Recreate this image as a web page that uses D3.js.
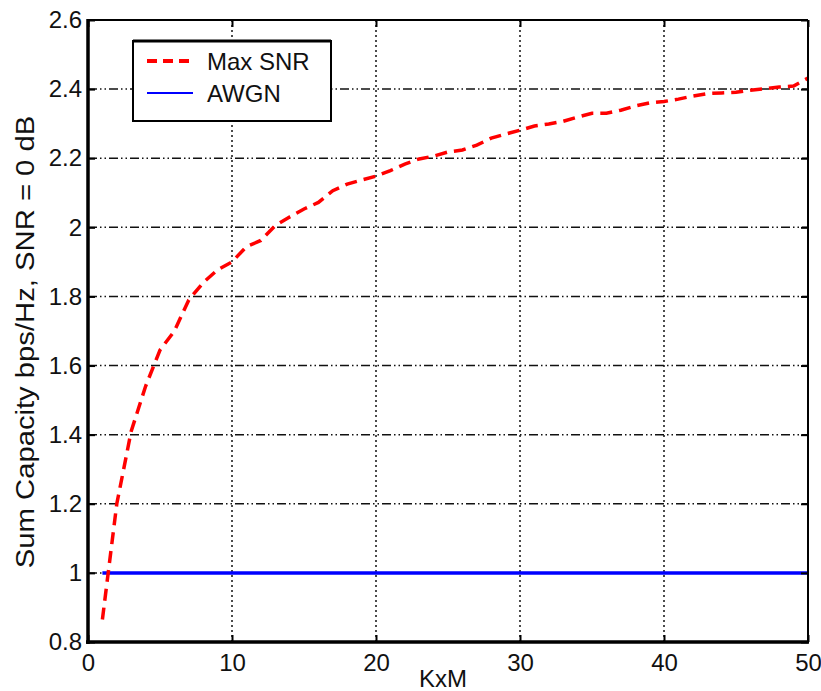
<!DOCTYPE html>
<html>
<head>
<meta charset="utf-8">
<script src="https://cdn.jsdelivr.net/npm/d3@7"></script>
<style>
  body { margin: 0; background: #fff; }
  svg { font-family: "Liberation Sans", Arial, Helvetica, sans-serif; }
</style>
</head>
<body>
<div id="vis"></div>
<script>
const FRAME_WIDTH = 821;
const FRAME_HEIGHT = 691;
const MARGINS = {left: 88, right: 13, top: 20, bottom: 49};

// data
const KXM = [1, 2, 3, 4, 5, 6, 7, 8, 9, 10, 11, 12, 13, 14, 15, 16, 17, 18, 19, 20,
             21, 22, 23, 24, 25, 26, 27, 28, 29, 30, 31, 32, 33, 34, 35, 36, 37, 38, 39, 40,
             41, 42, 43, 44, 45, 46, 47, 48, 49, 50];
const MAX_SNR = [0.865, 1.20, 1.41, 1.54, 1.645, 1.70, 1.79, 1.84, 1.877, 1.90,
                 1.944, 1.962, 2.005, 2.03, 2.053, 2.072, 2.106, 2.125, 2.137, 2.148,
                 2.164, 2.183, 2.198, 2.206, 2.218, 2.224, 2.238, 2.258, 2.27, 2.281,
                 2.293, 2.299, 2.307, 2.319, 2.33, 2.33, 2.339, 2.351, 2.36, 2.364,
                 2.371, 2.38, 2.387, 2.389, 2.391, 2.397, 2.401, 2.406, 2.409, 2.432];
const AWGN_X = [1, 50];
const AWGN = [1, 1];
const X_TICKS = [0, 10, 20, 30, 40, 50];
const Y_TICKS = [0.8, 1, 1.2, 1.4, 1.6, 1.8, 2, 2.2, 2.4, 2.6];
const LEGEND = ['Max SNR', 'AWGN'];

const X0 = MARGINS.left, X1 = FRAME_WIDTH - MARGINS.right;
const Y0 = FRAME_HEIGHT - MARGINS.bottom, Y1 = MARGINS.top;

const svg = d3.select('#vis')
  .append('svg')
    .attr('width', FRAME_WIDTH)
    .attr('height', FRAME_HEIGHT);

const X_SCALE = d3.scaleLinear().domain([0, 50]).range([X0, X1]);
const Y_SCALE = d3.scaleLinear().domain([0.8, 2.6]).range([Y0, Y1]);

// grid
svg.append('g')
  .selectAll('line')
  .data(X_TICKS.slice(1, -1))
  .enter().append('line')
    .attr('x1', d => X_SCALE(d)).attr('x2', d => X_SCALE(d))
    .attr('y1', Y0).attr('y2', Y1)
    .attr('stroke', '#111').attr('stroke-width', 1.5)
    .attr('stroke-dasharray', '2,3');

svg.append('g')
  .selectAll('line')
  .data(Y_TICKS.slice(1, -1))
  .enter().append('line')
    .attr('x1', X0).attr('x2', X1)
    .attr('y1', d => Y_SCALE(d)).attr('y2', d => Y_SCALE(d))
    .attr('stroke', '#111').attr('stroke-width', 1.5)
    .attr('stroke-dasharray', '9,3,1.5,3,1.5,3');

// lines
const line = d3.line()
  .x(d => X_SCALE(d[0]))
  .y(d => Y_SCALE(d[1]));

svg.append('path')
  .datum(AWGN_X.map((k, i) => [k, AWGN[i]]))
  .attr('d', line)
  .attr('fill', 'none')
  .attr('stroke', '#0000ff')
  .attr('stroke-width', 3.5);

svg.append('path')
  .datum(KXM.map((k, i) => [k, MAX_SNR[i]]))
  .attr('d', line)
  .attr('fill', 'none')
  .attr('stroke', '#ff0000')
  .attr('stroke-width', 3.5)
  .attr('stroke-dasharray', '12,7');

// axes
const styleAxis = (g) => {
  g.select('.domain').remove();
  g.selectAll('.tick line').attr('stroke', '#000').attr('stroke-width', 2);
  g.selectAll('text').attr('fill', '#111').attr('font-size', '24px');
};

svg.append('g')
  .attr('transform', 'translate(0,' + Y0 + ')')
  .call(d3.axisBottom(X_SCALE).tickValues(X_TICKS).tickSize(-7).tickPadding(12).tickFormat(d3.format('d')))
  .call(styleAxis);

svg.append('g')
  .attr('transform', 'translate(' + X0 + ',0)')
  .call(d3.axisLeft(Y_SCALE).tickValues(Y_TICKS).tickSize(-7).tickPadding(6).tickFormat(d => d3.format('')(+d.toFixed(1))))
  .call(styleAxis);

svg.append('g')
  .attr('transform', 'translate(0,' + Y1 + ')')
  .call(d3.axisTop(X_SCALE).tickValues(X_TICKS).tickSize(-7).tickFormat(''))
  .call(styleAxis);

svg.append('g')
  .attr('transform', 'translate(' + X1 + ',0)')
  .call(d3.axisRight(Y_SCALE).tickValues(Y_TICKS).tickSize(-7).tickFormat(''))
  .call(styleAxis);

// frame
svg.append('line').attr('x1', X0).attr('x2', X1).attr('y1', Y1).attr('y2', Y1)
  .attr('stroke', '#000').attr('stroke-width', 2);
svg.append('line').attr('x1', X1).attr('x2', X1).attr('y1', Y1).attr('y2', Y0)
  .attr('stroke', '#000').attr('stroke-width', 2);
svg.append('line').attr('x1', X0).attr('x2', X0).attr('y1', Y1 - 1).attr('y2', Y0 + 2)
  .attr('stroke', '#000').attr('stroke-width', 3.5);
svg.append('line').attr('x1', X0 - 2).attr('x2', X1 + 1).attr('y1', Y0).attr('y2', Y0)
  .attr('stroke', '#000').attr('stroke-width', 3.5);

// axis titles
svg.append('text')
  .attr('x', (X0 + X1) / 2 - 5)
  .attr('y', 687)
  .attr('text-anchor', 'middle')
  .attr('font-size', '24px')
  .attr('fill', '#111')
  .text('KxM');

// the reference text is stretched along its length
svg.append('text')
  .attr('transform', 'translate(34,' + ((Y0 + Y1) / 2 + 11) + ') rotate(-90) scale(1.17,1)')
  .attr('text-anchor', 'middle')
  .attr('font-size', '25px')
  .attr('fill', '#111')
  .text('Sum Capacity bps/Hz, SNR = 0 dB');

// legend
const lg = svg.append('g');
lg.append('rect')
  .attr('x', 133).attr('y', 41).attr('width', 198).attr('height', 80)
  .attr('fill', '#fff').attr('stroke', '#000').attr('stroke-width', 2);
lg.append('line').attr('x1', 133).attr('x2', 331).attr('y1', 41).attr('y2', 41)
  .attr('stroke', '#000').attr('stroke-width', 3);

const legendColors = ['#ff0000', '#0000ff'];
const legendDash = ['10,6', null];
const legendWidth = [4, 2];
LEGEND.forEach((name, i) => {
  const ly = 61 + i * 32;
  lg.append('line')
    .attr('x1', 147).attr('x2', 193).attr('y1', ly).attr('y2', ly)
    .attr('stroke', legendColors[i])
    .attr('stroke-width', legendWidth[i])
    .attr('stroke-dasharray', legendDash[i]);
  lg.append('text')
    .attr('x', 207).attr('y', ly + 8.5)
    .attr('font-size', '24px')
    .attr('fill', '#111')
    .text(name);
});
</script>
</body>
</html>
